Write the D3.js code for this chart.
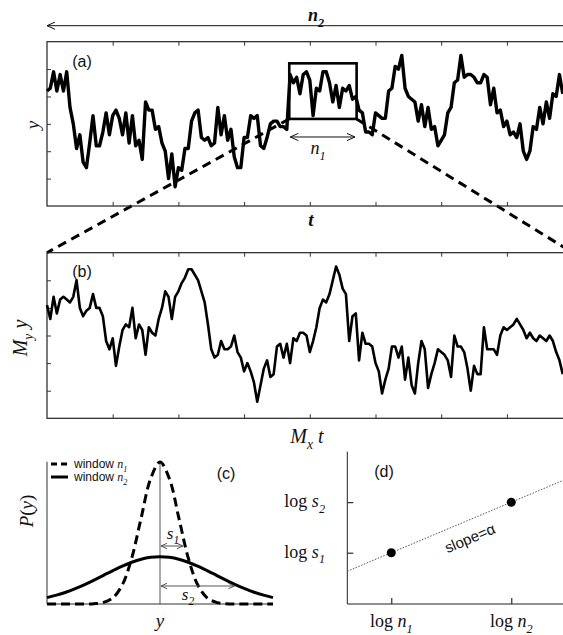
<!DOCTYPE html>
<html>
<head>
<meta charset="utf-8">
<script src="https://cdn.jsdelivr.net/npm/d3@7"></script>
<style>
  body { margin: 0; background: #fff; }
  text { fill: #111; }
</style>
</head>
<body>
<div id="chart"></div>
<script>
// panel (a): long record, sampled every 2 time units
const yA = [42,43,49,42,48,42,49,36,30,21, 26,16,14,23,33,22,22,27,34,26,
  33,35,32,26,34,23,33,22,24,17, 38,35,35,28,29,23,20,10,19,7,
  14,13,21,21,31,34,35,25,24,25, 22,23,36,26,33,24,28,18,14,14,
  25,25,33,32,33,22,21,25,30,31, 31,29,29,28,48,45,47,41,48,49,
  46,33,43,42,49,49,45,38,44,36, 43,42,44,39,40,35,34,27,27,26,
  34,33,32,32,42,43,51,50,55,43, 40,39,38,31,37,29,36,28,29,22,
  24,26,34,36,45,46,55,47,48,48, 47,45,45,48,47,37,43,34,35,29,
  31,26,27,25,30,20,17,20,29,28, 36,30,38,32,41,40,48,41];
// panel (b): magnified window
const yB = [41,36,44,38,43,44,43,42,44,50, 40,37,39,40,45,40,40,37,28,25,
  29,19,26,32,34,33,40,29,34,32, 23,33,31,30,36,40,46,44,36,44,
  46,49,51,54,54,52,50,46,42,34, 25,22,23,28,25,25,26,30,24,22,
  17,20,17,13,6,12,18,21,15,16, 26,27,22,27,20,29,28,31,31,30,
  24,28,33,40,43,42,45,50,55,52, 47,45,28,37,38,21,31,27,27,26,
  20,17,9,14,18,26,26,22,26,14, 22,12,9,20,28,25,11,16,20,25,
  24,23,21,15,30,26,26,24,18,10, 19,16,16,33,25,25,25,23,30,33,
  32,33,34,36,34,32,29,31,29,28, 30,29,28,30,28,24,21,16];
const tStep = 2;
const tTicks = [40, 80, 120, 160, 200, 240, 280];
const yTicks = [10, 20, 30, 40, 50];
const windowT = [147.5, 188.5];   // n1 window in (a)
const windowY = [31.8, 52.1];
const n1ArrowY = 25.2;

// panel (c): distributions
const cY = [-6,-5.5,-5,-4.5,-4,-3.5,-3,-2.5,-2,-1.5,-1,-0.5,0,0.5,1,1.5,2,2.5,3,3.5,4,4.5,5,5.5,6];
const pN1 = [0,0,0,0,0.0001,0.0009,0.0044,0.0175,0.054,0.1295,0.242,0.352,0.399,
  0.352,0.242,0.1295,0.054,0.0175,0.0044,0.0009,0.0001,0,0,0,0];
const pN2 = [0.018,0.0248,0.0331,0.0431,0.0546,0.0673,0.0807,0.094,0.1065,0.1174,0.126,0.1312,0.133,
  0.1312,0.126,0.1174,0.1065,0.094,0.0807,0.0673,0.0546,0.0431,0.0331,0.0248,0.018];
const s1 = [1.22, 0.163];
const s2 = [3.95, 0.0506];

// panel (d): scaling
const logN = [1.1, 4.1];
const logS = [1.28, 2.54];
const fitX = [0, 5.4];
const fitY = [0.818, 3.086];

const W = 563, H = 635;
const serif = "'Liberation Serif','Times New Roman',serif";
const sans = "'Liberation Sans',Arial,sans-serif";

const svg = d3.select("#chart").append("svg")
  .attr("width", W).attr("height", H);

const defs = svg.append("defs");
function marker(id, len, col) {
  defs.append("marker").attr("id", id)
    .attr("viewBox", `${-len - 1} ${-len} ${len + 2} ${len * 2}`)
    .attr("markerWidth", len + 2).attr("markerHeight", len * 2)
    .attr("markerUnits", "userSpaceOnUse")
    .attr("orient", "auto-start-reverse")
    .append("path")
    .attr("d", `M${-len},${-len * 0.45}L0,0L${-len},${len * 0.45}`)
    .attr("fill", "none").attr("stroke", col).attr("stroke-width", 1);
}
marker("arrBlack", 8, "#111");
marker("arrGray", 6, "#555");

function label(x, y, parts, size, opt = {}) {
  const t = svg.append("text").attr("x", x).attr("y", y)
    .attr("font-size", size).attr("font-family", opt.family || serif)
    .attr("text-anchor", opt.anchor || "middle");
  if (opt.bold) t.attr("font-weight", "bold");
  if (opt.rotate) t.attr("transform", `rotate(${opt.rotate},${x},${y})`);
  let low = false;
  parts.forEach(p => {
    const s = t.append("tspan").text(p.t);
    if (p.i) s.attr("font-style", "italic");
    if (p.sub) { s.attr("font-size", size * 0.68).attr("dy", size * 0.32); low = true; }
    else if (low) { s.attr("dy", -size * 0.32); low = false; }
    if (p.f) s.attr("font-family", p.f);
  });
  return t;
}

// scales
const x = d3.scaleLinear().domain([0, 320]).range([47, 572.6]);
const ya = d3.scaleLinear().domain([0, 60]).range([206, 41.7]);
const yb = d3.scaleLinear().domain([0, 60]).range([418.3, 252.7]);

const line = (ys) => d3.line().x((d, i) => x(i * tStep)).y(d => ys(d));

// zoom connector dashes (behind traces)
svg.append("path")
  .attr("d", d3.line()([[x(windowT[0]), ya(windowY[0])], [x(0), yb(60)]]))
  .attr("stroke", "#000").attr("stroke-width", 3).attr("stroke-dasharray", "9,6").attr("fill", "none");
svg.append("path")
  .attr("d", d3.line()([[x(windowT[1]), ya(windowY[0])], [x(320), yb(60)]]))
  .attr("stroke", "#000").attr("stroke-width", 3).attr("stroke-dasharray", "9,6").attr("fill", "none");

function framePanel(ys, top, bottom) {
  const g = svg.append("g");
  g.append("rect").attr("x", x(0)).attr("y", top).attr("width", x(320) - x(0)).attr("height", bottom - top)
    .attr("fill", "none").attr("stroke", "#222").attr("stroke-width", 1.2);
  g.append("g").attr("transform", `translate(0,${top})`)
    .call(d3.axisTop(x).tickValues(tTicks).tickSize(-4).tickFormat(""));
  g.append("g").attr("transform", `translate(0,${bottom})`)
    .call(d3.axisBottom(x).tickValues(tTicks).tickSize(-4).tickFormat(""));
  g.append("g").attr("transform", `translate(${x(0)},0)`)
    .call(d3.axisLeft(ys).tickValues(yTicks).tickSize(-4).tickFormat(""));
  g.selectAll(".domain").remove();
  g.selectAll(".tick line").attr("stroke", "#333");
}
framePanel(ya, 41.7, 206);
framePanel(yb, 252.7, 418.3);

// traces
svg.append("path").datum(yA).attr("d", line(ya))
  .attr("fill", "none").attr("stroke", "#000").attr("stroke-width", 3.4).attr("stroke-linejoin", "round");
svg.append("path").datum(yB).attr("d", line(yb))
  .attr("fill", "none").attr("stroke", "#000").attr("stroke-width", 2.6).attr("stroke-linejoin", "round");

// window box
svg.append("rect")
  .attr("x", x(windowT[0])).attr("y", ya(windowY[1]))
  .attr("width", x(windowT[1]) - x(windowT[0])).attr("height", ya(windowY[0]) - ya(windowY[1]))
  .attr("fill", "none").attr("stroke", "#000").attr("stroke-width", 2.6);

// n1 arrow
svg.append("line")
  .attr("x1", x(windowT[0]) + 1).attr("x2", x(windowT[1] - 1)).attr("y1", ya(n1ArrowY)).attr("y2", ya(n1ArrowY))
  .attr("stroke", "#111").attr("stroke-width", 1)
  .attr("marker-start", "url(#arrBlack)").attr("marker-end", "url(#arrBlack)");
// n2 arrow
svg.append("line")
  .attr("x1", x(0)).attr("x2", x(320)).attr("y1", 25.7).attr("y2", 25.7)
  .attr("stroke", "#111").attr("stroke-width", 1)
  .attr("marker-start", "url(#arrBlack)").attr("marker-end", "url(#arrBlack)");

label(316, 21, [{t: "n", i: true}, {t: "2", i: true, sub: true}], 18, {bold: true});
label(318, 154, [{t: "n", i: true}, {t: "1", i: true, sub: true}], 18);
label(82, 67, [{t: "(a)"}], 16, {family: sans});
label(82, 277, [{t: "(b)"}], 16, {family: sans});
label(39, 125, [{t: "y", i: true}], 19, {rotate: -90});
label(311, 226, [{t: "t", i: true}], 19, {bold: true});
label(27, 338, [{t: "M", i: true}, {t: "y", i: true, sub: true}, {t: " y", i: true}], 20, {rotate: -90});
label(307, 443, [{t: "M", i: true}, {t: "x", i: true, sub: true}, {t: " t", i: true}], 20);

// panel (c)
const xc = d3.scaleLinear().domain([-6, 6]).range([47, 273]);
const yc = d3.scaleLinear().domain([0, 0.4]).range([604, 461.7]);
const cg = svg.append("g");
cg.append("line").attr("x1", xc(-6)).attr("x2", xc(-6)).attr("y1", yc(0)).attr("y2", yc(0.4)).attr("stroke", "#333");
cg.append("line").attr("x1", xc(-6)).attr("x2", xc(6)).attr("y1", yc(0)).attr("y2", yc(0)).attr("stroke", "#333");
cg.append("line").attr("x1", xc(0)).attr("x2", xc(0)).attr("y1", yc(0)).attr("y2", yc(0.4)).attr("stroke", "#555");
const cline = d3.line().x((d, i) => xc(cY[i])).y(d => yc(d)).curve(d3.curveCatmullRom);
cg.append("path").datum(pN2).attr("d", cline)
  .attr("fill", "none").attr("stroke", "#000").attr("stroke-width", 3);
cg.append("path").datum(pN1).attr("d", cline)
  .attr("fill", "none").attr("stroke", "#000").attr("stroke-width", 3).attr("stroke-dasharray", "9,5");
[s1, s2].forEach(s => {
  cg.append("line").attr("x1", xc(0) + 1).attr("x2", xc(s[0])).attr("y1", yc(s[1])).attr("y2", yc(s[1]))
    .attr("stroke", "#555").attr("stroke-width", 1)
    .attr("marker-start", "url(#arrGray)").attr("marker-end", "url(#arrGray)");
});
label(173, 539, [{t: "s", i: true}, {t: "1", i: true, sub: true}], 17);
label(188, 600, [{t: "s", i: true}, {t: "2", i: true, sub: true}], 17);
label(226, 479, [{t: "(c)"}], 16, {family: sans});
label(33, 511, [{t: "P", i: true}, {t: "(", i: false}, {t: "y", i: true}, {t: ")"}], 19, {rotate: -90});
label(xc(0), 627, [{t: "y", i: true}], 19);

// legend (c)
cg.append("line").attr("x1", 51).attr("x2", 68).attr("y1", 464).attr("y2", 464)
  .attr("stroke", "#000").attr("stroke-width", 3).attr("stroke-dasharray", "6,4");
cg.append("line").attr("x1", 51).attr("x2", 68).attr("y1", 477).attr("y2", 477)
  .attr("stroke", "#000").attr("stroke-width", 3);
const leg1 = label(74, 468, [{t: "window ", f: sans}, {t: "n", i: true, f: serif}, {t: "1", i: true, sub: true, f: serif}], 12, {anchor: "start", family: sans});
const leg2 = label(74, 481, [{t: "window ", f: sans}, {t: "n", i: true, f: serif}, {t: "2", i: true, sub: true, f: serif}], 12, {anchor: "start", family: sans});

// panel (d)
const xd = d3.scaleLinear().domain([0, 5.4]).range([347.3, 563.3]);
const yd = d3.scaleLinear().domain([0, 3.8]).range([604, 451.7]);
const dg = svg.append("g");
dg.append("g").attr("transform", `translate(0,${yd(0)})`)
  .call(d3.axisBottom(xd).tickValues(logN).tickSize(-6).tickFormat(""));
dg.append("g").attr("transform", `translate(${xd(0)},0)`)
  .call(d3.axisLeft(yd).tickValues(logS).tickSize(-6).tickFormat(""));
dg.selectAll(".domain").remove();
dg.append("line").attr("x1", xd(0)).attr("x2", xd(0)).attr("y1", yd(0)).attr("y2", yd(3.8)).attr("stroke", "#222");
dg.append("line").attr("x1", xd(0)).attr("x2", xd(5.4)).attr("y1", yd(0)).attr("y2", yd(0)).attr("stroke", "#222");
dg.append("path").datum(fitX.map((v, i) => [v, fitY[i]]))
  .attr("d", d3.line().x(d => xd(d[0])).y(d => yd(d[1])))
  .attr("stroke", "#555").attr("stroke-width", 1).attr("stroke-dasharray", "1.5,1.5").attr("fill", "none");
dg.selectAll("circle").data(logN).join("circle")
  .attr("cx", d => xd(d)).attr("cy", (d, i) => yd(logS[i])).attr("r", 4.5).attr("fill", "#000");
label(384, 477, [{t: "(d)"}], 16, {family: sans});
const ang = Math.atan2(yd(fitY[1]) - yd(fitY[0]), xd(fitX[1]) - xd(fitX[0])) * 180 / Math.PI;
label(472, 543, [{t: "slope=α"}], 15, {family: sans, rotate: ang});
label(xd(logN[0]), 627, [{t: "log "}, {t: "n", i: true}, {t: "1", i: true, sub: true}], 18);
label(xd(logN[1]), 627, [{t: "log "}, {t: "n", i: true}, {t: "2", i: true, sub: true}], 18);
label(325, yd(logS[1]) + 5, [{t: "log "}, {t: "s", i: true}, {t: "2", i: true, sub: true}], 18, {anchor: "end"});
label(325, yd(logS[0]) + 5, [{t: "log "}, {t: "s", i: true}, {t: "1", i: true, sub: true}], 18, {anchor: "end"});
</script>
</body>
</html>
